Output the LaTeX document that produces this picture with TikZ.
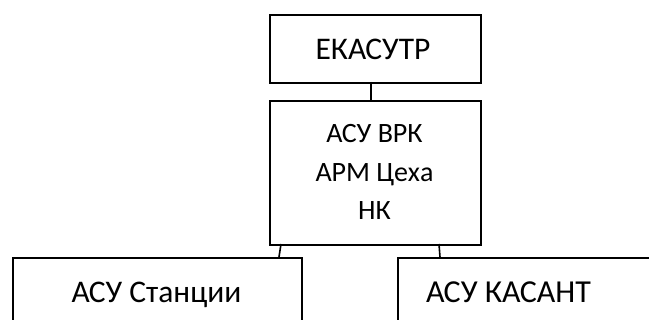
\documentclass[tikz,border=0pt]{standalone}
\usepackage{fontspec}
\setmainfont{Carlito}
\tikzset{
  box/.style={draw=black, line width=1.6pt, fill=white, inner sep=0pt, anchor=north west},
  conn/.style={draw=black, line width=1.6pt},
  lbl/.style={inner sep=0pt, align=center, text=black}
}
\begin{document}
\begin{tikzpicture}[x=1pt,y=-1pt]
\useasboundingbox (0,0) rectangle (649,320);
\clip (0,0) rectangle (649,320);
% boxes
\node[box, minimum width=211pt, minimum height=68pt] (top) at (269,14) {};
\node[box, minimum width=211pt, minimum height=144pt] (mid) at (269,100) {};
\node[box, minimum width=289pt, minimum height=80pt] (left) at (12,257) {};
\node[box, minimum width=270pt, minimum height=80pt] (right) at (397,257) {};
% texts
\node[lbl, font=\fontsize{31.5}{36}\selectfont] (ttop) at (373,49) {ЕКАСУТР};
\node[lbl, font=\fontsize{28}{38.5}\selectfont] (tmid) at (374.5,172) {АСУ ВРК\\АРМ Цеха\\НК};
\node[lbl, font=\fontsize{31.5}{36}\selectfont, anchor=base] (tleft) at (156.5,303) {АСУ Станции};
\node[lbl, font=\fontsize{32}{36}\selectfont, anchor=base] (tright) at (508.5,303) {АСУ КАСАНТ};
% connectors
\coordinate (c1) at (371,82);
\coordinate (c2) at (371,100);
\coordinate (l1) at (281,244);
\coordinate (l2) at (279,257);
\coordinate (r1) at (439,244);
\coordinate (r2) at (440,257);
\draw[conn] (c1) -- (c2);
\draw[conn] (l1) -- (l2);
\draw[conn] (r1) -- (r2);
\end{tikzpicture}
\end{document}
